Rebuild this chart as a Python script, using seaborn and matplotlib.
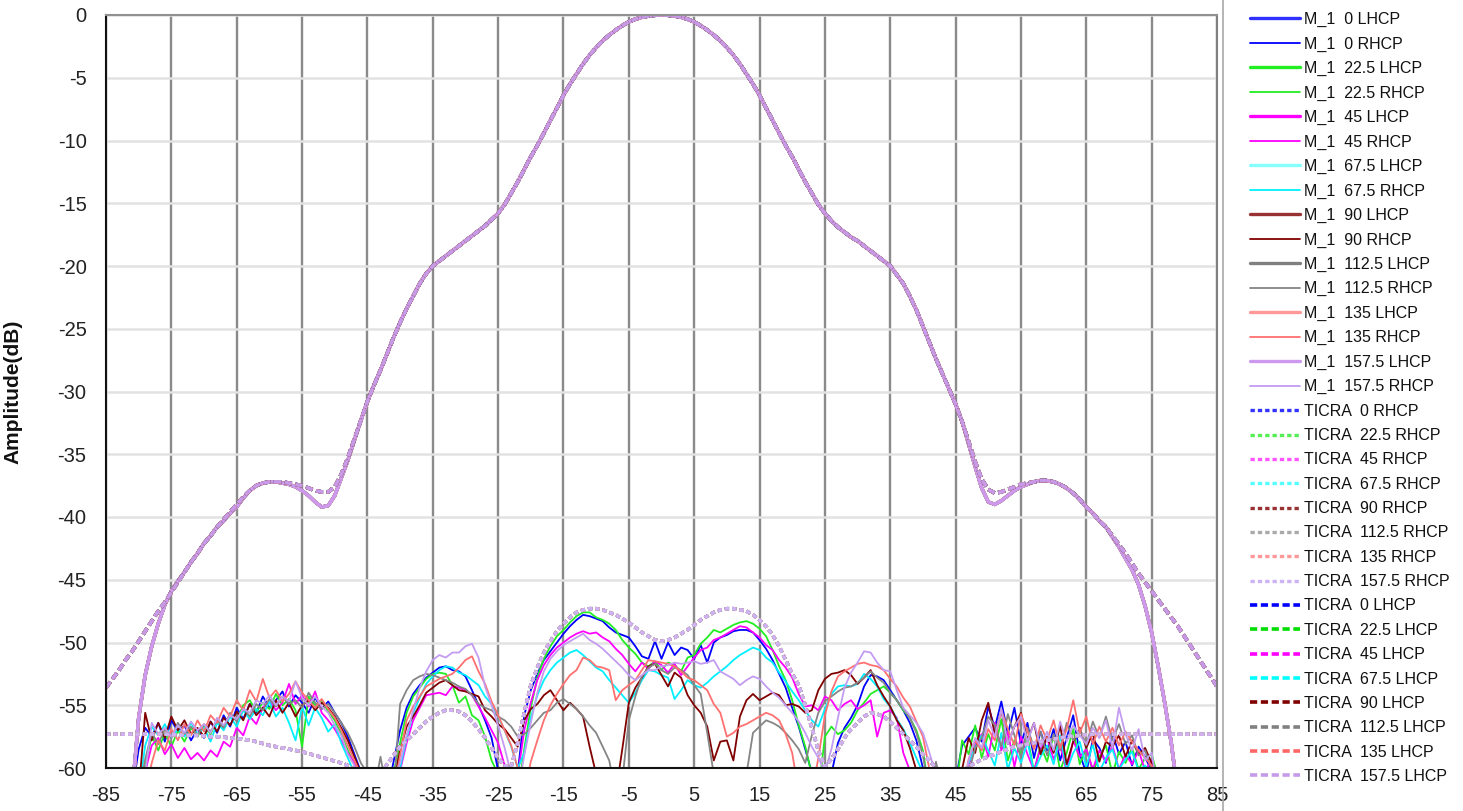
import matplotlib
matplotlib.use("Agg")
import matplotlib.pyplot as plt
import seaborn as sns
from matplotlib.lines import Line2D

# ---------------------------------------------------------------- data
ANGLES_M = list(range(-81, 81))      # measured cuts, deg
ANGLES_T = list(range(-85, 86))      # simulated cuts, deg
CUTS = ["0", "22.5", "45", "67.5", "90", "112.5", "135", "157.5"]

# measured co-polar (LHCP) pattern, dB
M1_CO = [
    -62.0, -56.0, -52.6, -50.3, -48.5, -47.0, -45.9, -45.1, -44.4, -43.6,
    -42.9, -42.1, -41.5, -40.8, -40.3, -39.7, -39.2, -38.5, -37.9, -37.5,
    -37.3, -37.2, -37.2, -37.3, -37.4, -37.6, -37.9, -38.3, -38.8, -39.2,
    -39.1, -38.3, -36.9, -35.5, -33.9, -32.3, -30.8, -29.5, -28.3, -27.0,
    -25.7, -24.5, -23.4, -22.4, -21.4, -20.6, -20.0, -19.6, -19.2, -18.8,
    -18.4, -18.0, -17.6, -17.2, -16.8, -16.3, -15.8, -15.1, -14.2, -13.3,
    -12.3, -11.3, -10.4, -9.4, -8.4, -7.4, -6.4, -5.5, -4.7, -3.9,
    -3.2, -2.6, -2.05, -1.6, -1.2, -0.85, -0.55, -0.33, -0.18, -0.08,
    -0.02, 0.0, -0.02, -0.08, -0.18, -0.33, -0.55, -0.85, -1.2, -1.6,
    -2.05, -2.6, -3.2, -3.9, -4.7, -5.5, -6.4, -7.4, -8.4, -9.4,
    -10.4, -11.3, -12.3, -13.3, -14.2, -15.1, -15.8, -16.4, -16.9, -17.3,
    -17.7, -18.0, -18.4, -18.8, -19.2, -19.6, -20.0, -20.7, -21.4, -22.4,
    -23.5, -24.8, -26.1, -27.4, -28.6, -29.8, -31.0, -32.4, -34.2, -36.0,
    -37.7, -38.8, -39.0, -38.7, -38.3, -37.9, -37.6, -37.4, -37.2, -37.1,
    -37.1, -37.2, -37.4, -37.7, -38.1, -38.6, -39.2, -39.7, -40.3, -40.8,
    -41.6, -42.4, -43.3, -44.2, -45.4, -47.1, -49.2, -51.9, -54.8, -58.0,
    -62.0, -62.0,
]

# measured cross-polar (RHCP) patterns, dB
M1_X_0 = [
    -62, -58.5, -56.8, -57.5, -56.4, -57.9, -56.2, -57.1, -56.6, -57.8,
    -56.9, -57.6, -56.3, -57.2, -55.8, -56.7, -55.2, -56.1, -54.9, -55.6,
    -54.3, -55.2, -54.6, -53.9, -55.1, -54.2, -54.8, -55.6, -54.4, -55.3,
    -54.7, -55.6, -56.4, -57.5, -58.9, -60.3, -62, -62, -62, -62,
    -59.5, -57.0, -55.2, -54.1, -53.4, -52.8, -52.4, -52.0, -51.9, -52.2,
    -52.3, -52.7, -53.8, -55.0, -56.2, -57.6, -60.2, -62, -62, -60.4,
    -55.8, -53.8, -52.5, -51.4, -50.7, -50.0, -49.3, -48.7, -48.2, -47.8,
    -47.9, -48.1, -48.3, -48.8, -49.2, -49.4, -49.6, -50.3, -51.1, -51.3,
    -49.9, -51.3, -50.0, -51.0, -50.4, -50.6, -51.3, -50.2, -51.6, -50.0,
    -49.6, -49.4, -49.1, -49.0, -49.0, -49.2, -49.8, -50.5, -51.4, -52.5,
    -53.6, -55.2, -56.7, -58.5, -60.4, -62, -61, -60.5, -58.0, -56.8,
    -56.0, -55.0, -53.5, -52.6, -52.7, -53.0, -53.8, -54.6, -55.4, -56.4,
    -57.8, -60.0, -62, -62, -62, -62, -61, -58.2, -57.5, -56.8,
    -57.9, -55.1, -56.8, -54.7, -57.3, -55.2, -58.1, -56.4, -59.2, -57.1,
    -58.6, -56.9, -59.4, -57.6, -55.8, -58.9, -60.4, -57.7, -58.4, -59.6,
    -57.2, -58.9, -57.9, -59.8, -58.3, -59.1, -60.3, -62, -62, -62,
    -62, -62,
]
M1_X_22 = [
    -62, -62, -59.8, -57.4, -58.6, -57.2, -58.3, -57.0, -57.9, -56.8,
    -57.5, -56.6, -57.3, -56.1, -56.9, -55.7, -56.2, -55.0, -54.6, -55.5,
    -54.8, -55.3, -54.1, -55.0, -54.5, -55.4, -58.3, -54.3, -55.0, -54.6,
    -55.5, -56.2, -57.3, -58.6, -59.7, -62, -62, -62, -62, -61.5,
    -60.4, -58.0, -55.6, -54.3, -53.6, -52.9, -52.5, -52.4, -52.5, -53.4,
    -54.8, -54.3, -55.8, -56.2, -57.5, -59.4, -60.5, -62, -62, -62,
    -58.5, -55.2, -52.8, -51.3, -50.3, -49.5, -49.0, -48.4, -47.9, -47.6,
    -47.6, -48.0, -48.2, -48.5, -49.0, -49.8, -50.4, -50.9, -51.6, -51.9,
    -51.5, -52.2, -51.6, -51.8, -52.3, -51.2, -51.0, -50.1, -49.6, -49.0,
    -49.2, -48.9, -48.6, -48.4, -48.3, -48.5, -48.9, -49.5, -50.6, -51.9,
    -53.0, -54.6, -56.6, -58.3, -60.5, -62, -57.5, -56.7, -57.3, -57.0,
    -56.4, -55.4, -54.8, -54.1, -53.8, -53.5, -54.0, -54.6, -55.4, -56.0,
    -57.0, -58.6, -62, -62, -62, -62, -62, -57.8, -58.9, -56.6,
    -59.2, -57.3, -58.6, -56.1, -59.4, -57.8, -58.9, -57.5, -60.3, -58.2,
    -59.5, -57.4, -60.2, -58.8, -56.9, -59.7, -58.4, -60.3, -59.1, -58.2,
    -60.5, -58.7, -59.6, -58.4, -60.1, -59.2, -58.9, -60.8, -62, -62,
    -62, -62,
]
M1_X_45 = [
    -62, -62, -60.3, -58.2, -57.6, -58.9, -58.1, -59.2, -58.4, -59.3,
    -58.8, -59.4, -58.6, -59.1, -57.9, -58.3, -56.8, -57.4, -55.9, -56.5,
    -55.2, -54.6, -55.4, -54.8, -53.3, -54.9, -54.2, -55.1, -53.9, -55.6,
    -56.2, -56.9, -57.8, -58.8, -59.6, -62, -62, -62, -62, -62,
    -62, -60.2, -58.0, -56.2, -55.2, -54.2, -54.1, -54.0, -54.2, -53.5,
    -53.6, -53.8, -54.2, -55.1, -56.0, -57.0, -58.0, -59.8, -62, -60.6,
    -57.0, -54.8, -53.0, -51.8, -51.0, -50.4, -50.0, -49.6, -49.3, -49.1,
    -49.3, -49.2, -49.6, -49.9, -50.5, -51.0, -51.7, -52.3, -51.6, -52.1,
    -51.5, -51.8, -52.4, -51.7, -52.6, -51.9, -51.2, -50.6, -50.4, -49.8,
    -49.6, -49.3, -49.0, -48.7, -48.8, -49.2, -49.6, -50.2, -50.6, -51.4,
    -52.0, -52.8, -54.1, -55.1, -55.0, -55.4, -54.3, -54.6, -55.4, -54.9,
    -54.6, -55.3, -55.0, -54.6, -57.5, -55.6, -55.4, -56.0, -58.8, -60.2,
    -62, -62, -62, -62, -62, -62, -62, -62, -59.8, -58.1,
    -57.3, -59.1, -56.4, -58.6, -57.1, -59.9, -57.5, -58.9, -60.2, -58.4,
    -57.6, -59.3, -58.1, -60.3, -57.8, -59.1, -58.5, -60.1, -58.6, -59.5,
    -58.2, -60.1, -58.9, -59.7, -58.6, -60.2, -59.4, -62, -62, -62,
    -62, -62,
]
M1_X_67 = [
    -62, -62, -58.2, -56.7, -57.4, -56.5, -57.6, -56.9, -57.5, -56.4,
    -57.3, -56.8, -57.9, -56.4, -57.0, -55.9, -56.7, -55.4, -56.1, -55.3,
    -55.8, -54.7, -55.9, -55.2, -56.4, -57.8, -55.1, -56.6, -55.2, -56.0,
    -57.1, -56.5, -58.0, -59.2, -60.4, -62, -62, -62, -62, -62,
    -62, -60.0, -57.6, -55.6, -54.4, -53.3, -52.7, -52.2, -51.9, -52.0,
    -52.4, -52.6, -53.0, -53.4, -54.3, -54.9, -55.9, -57.0, -58.3, -60.0,
    -58.8, -56.0, -54.2, -53.0, -52.2, -51.6, -51.2, -50.8, -50.6, -51.0,
    -51.5, -52.0, -52.3, -53.0, -53.6, -54.2, -54.8, -54.0, -53.0, -52.2,
    -52.3, -52.6, -52.8, -54.5, -53.8, -53.0, -53.4, -53.6, -53.2, -52.7,
    -52.3, -51.9, -51.4, -51.0, -50.7, -50.4, -50.6, -51.2, -51.6, -52.4,
    -53.1, -53.9, -54.6, -55.4, -56.2, -56.7, -55.3, -54.1, -53.5, -53.4,
    -53.5, -53.3, -52.5, -52.9, -53.5, -54.5, -55.1, -56.1, -56.9, -58.0,
    -59.2, -60.4, -62, -62, -62, -62, -62, -61, -59.6, -58.3,
    -57.4, -58.6, -59.8, -57.2, -60.1, -58.4, -59.6, -57.9, -60.3, -59.1,
    -58.2, -59.7, -57.4, -60.2, -58.8, -57.9, -59.9, -58.1, -60.3, -59.2,
    -58.5, -60.1, -59.3, -58.7, -60.2, -59.8, -60.5, -62, -62, -62,
    -62, -62,
]
M1_X_90 = [
    -62, -62, -55.6, -57.8, -56.4, -57.6, -55.9, -57.0, -56.2, -57.3,
    -56.8, -57.5, -56.3, -57.1, -56.0, -56.6, -55.5, -56.2, -54.9, -55.8,
    -55.2, -55.9, -54.6, -55.6, -54.8, -55.9, -55.0, -54.6, -55.4, -54.8,
    -55.2, -55.9, -56.8, -57.8, -59.1, -60.4, -62, -62, -62, -62,
    -61, -58.6, -56.7, -55.9, -55.0, -54.0, -53.6, -53.2, -53.0, -53.4,
    -53.8, -53.9, -54.1, -54.3, -55.4, -55.9, -56.5, -56.9, -57.6, -58.3,
    -56.2, -55.3, -54.9, -54.2, -53.8, -54.6, -55.4, -54.8, -55.3, -55.9,
    -58.3, -60.5, -62, -62, -62, -58.5, -54.8, -53.6, -52.8, -51.9,
    -51.7, -52.6, -53.5, -52.4, -52.8, -54.2, -55.0, -55.6, -56.7, -59.4,
    -57.9, -57.8, -59.4, -55.9, -54.6, -54.1, -54.6, -54.3, -54.0, -54.2,
    -55.0, -54.9, -55.1, -55.6, -55.4, -53.8, -52.9, -52.5, -52.4, -52.2,
    -52.6, -53.3, -52.8, -52.2, -53.4, -54.3, -55.1, -56.2, -57.0, -58.4,
    -60.2, -62, -62, -62, -62, -62, -62, -60.1, -57.6, -58.8,
    -56.2, -54.8, -57.3, -55.4, -58.1, -56.7, -55.6, -57.8, -56.4, -58.9,
    -57.5, -58.8, -56.6, -59.7, -57.9, -56.8, -58.4, -57.2, -59.5, -57.9,
    -58.3, -57.4, -59.1, -57.8, -58.9, -58.4, -59.6, -60.4, -62, -62,
    -62, -62,
]
M1_X_112 = [
    -62, -62, -59.3, -57.2, -58.1, -56.9, -57.6, -56.4, -57.3, -56.7,
    -57.4, -56.5, -57.1, -56.2, -56.8, -55.6, -56.3, -55.2, -55.9, -54.9,
    -55.4, -54.5, -55.1, -54.3, -54.9, -54.6, -55.2, -54.0, -54.8, -55.3,
    -54.9, -55.6, -56.4, -57.2, -58.3, -59.6, -60.4, -62, -59.1, -62,
    -62, -54.9, -53.8, -53.0, -52.7, -52.5, -52.6, -52.8, -53.0, -53.2,
    -53.5, -53.7, -54.2, -54.9, -55.2, -55.4, -55.9, -56.2, -56.7, -57.5,
    -57.3, -56.8, -56.2, -55.6, -55.4, -54.8, -54.5, -54.9, -55.3, -55.9,
    -56.6, -57.2, -58.3, -59.4, -62, -61, -56.2, -54.3, -52.7, -52.0,
    -51.7, -52.2, -52.5, -52.0, -52.2, -52.6, -53.4, -54.1, -57.2, -60.5,
    -62, -62, -62, -62, -60.5, -57.2, -56.7, -56.2, -56.4, -56.7,
    -57.2, -57.8, -58.5, -59.6, -57.4, -55.6, -54.7, -54.3, -53.9, -53.6,
    -53.5, -53.2, -52.8, -52.3, -52.8, -53.2, -54.0, -54.6, -55.3, -56.0,
    -57.2, -59.0, -62, -59.5, -62, -62, -62, -62, -60.4, -58.4,
    -57.6, -55.9, -56.6, -58.3, -55.7, -57.4, -59.2, -56.8, -58.4, -57.1,
    -59.0, -57.3, -58.6, -56.4, -57.8, -56.9, -58.2, -56.3, -57.6, -55.9,
    -57.8, -56.5, -58.1, -57.4, -59.0, -58.6, -60.2, -62, -62, -62,
    -62, -62,
]
M1_X_135 = [
    -62, -62, -62, -59.6, -57.8, -58.6, -56.9, -57.8, -56.5, -57.4,
    -56.2, -57.1, -55.8, -56.4, -55.2, -55.9, -54.6, -55.4, -53.8, -54.7,
    -52.9, -54.4, -53.8, -54.7, -54.1, -53.1, -54.0, -54.6, -55.2, -54.5,
    -55.3, -56.0, -57.0, -58.2, -59.4, -60.5, -62, -62, -62, -62,
    -62, -59.0, -56.2, -55.1, -54.3, -53.5, -53.2, -52.9, -52.7, -52.5,
    -52.0, -51.4, -51.1, -52.3, -53.3, -54.7, -55.8, -57.0, -58.2, -60.0,
    -62, -59.5, -57.8, -56.2, -55.0, -54.1, -53.3, -52.6, -52.2, -51.2,
    -51.4, -51.9, -52.0, -52.2, -54.6, -53.8, -53.4, -53.0, -52.2, -51.4,
    -51.5, -51.6, -51.7, -51.9, -52.3, -52.8, -53.0, -53.4, -53.8, -54.9,
    -55.6, -57.5, -57.2, -56.7, -56.5, -56.2, -55.9, -55.6, -55.8, -56.2,
    -57.3, -58.8, -62, -62, -62, -59.2, -55.8, -53.9, -52.7, -52.3,
    -52.0, -51.7, -51.6, -51.8, -51.9, -52.2, -52.9, -53.5, -54.4, -55.1,
    -56.3, -57.5, -60.1, -62, -62, -62, -62, -62, -59.3, -57.8,
    -58.6, -56.9, -57.8, -55.4, -56.9, -58.2, -55.7, -57.1, -58.5, -56.6,
    -57.8, -56.2, -58.4, -56.9, -54.6, -57.2, -55.9, -58.1, -56.7, -57.9,
    -56.8, -58.2, -57.1, -57.9, -58.6, -59.2, -59.8, -62, -62, -62,
    -62, -62,
]
M1_X_157 = [
    -62, -62, -60.4, -56.4, -57.3, -56.8, -57.5, -56.6, -57.2, -56.3,
    -57.0, -56.5, -57.2, -56.0, -56.6, -55.8, -56.1, -55.3, -55.6, -54.6,
    -54.9, -54.2, -55.0, -54.3, -54.7, -53.1, -54.4, -55.0, -54.3, -55.1,
    -55.6, -56.6, -57.4, -58.9, -59.8, -62, -62, -62, -62, -62,
    -61, -59.6, -57.4, -55.4, -53.6, -52.3, -51.4, -51.0, -51.2, -50.8,
    -50.8, -50.3, -50.1, -51.2, -53.5, -55.0, -56.6, -58.4, -60.5, -62,
    -59.0, -56.4, -54.0, -52.3, -51.3, -50.7, -50.2, -49.9, -49.6, -49.3,
    -49.8, -50.1, -50.5, -51.0, -51.5, -52.0, -52.6, -53.0, -52.6, -52.2,
    -52.2, -51.9, -51.8, -51.6, -51.7, -51.6, -51.5, -51.7, -51.6, -51.4,
    -52.3, -52.6, -52.9, -53.4, -53.0, -52.7, -52.9, -53.5, -54.0, -54.4,
    -55.0, -55.6, -56.3, -57.2, -58.3, -59.2, -60.3, -58.5, -56.0, -53.6,
    -52.4, -51.6, -50.7, -50.8, -51.6, -52.2, -52.3, -53.8, -55.2, -55.8,
    -56.4, -57.2, -58.8, -60.5, -62, -62, -62, -62, -59.4, -57.6,
    -58.4, -56.2, -57.5, -55.3, -58.1, -56.7, -55.9, -57.9, -56.4, -58.3,
    -57.1, -58.6, -56.3, -57.9, -56.6, -57.4, -58.1, -56.8, -57.6, -56.2,
    -58.4, -55.2, -57.3, -58.6, -56.9, -59.4, -58.8, -62, -62, -62,
    -62, -62,
]
M1_X = [M1_X_0, M1_X_22, M1_X_45, M1_X_67, M1_X_90, M1_X_112, M1_X_135, M1_X_157]

# simulated co-polar (LHCP) pattern, dB
TICRA_CO = [
    -53.6, -52.9, -52.2, -51.4, -50.7, -49.9, -49.1, -48.3, -47.5, -46.8,
    -46.0, -45.2, -44.4, -43.6, -42.9, -42.1, -41.5, -40.8, -40.2, -39.6,
    -39.0, -38.4, -37.9, -37.5, -37.3, -37.2, -37.2, -37.2, -37.3, -37.4,
    -37.5, -37.7, -37.9, -38.0, -38.0, -37.6, -36.6, -35.3, -33.8, -32.3,
    -30.8, -29.5, -28.3, -27.0, -25.7, -24.5, -23.4, -22.4, -21.4, -20.6,
    -20.0, -19.6, -19.2, -18.8, -18.4, -18.0, -17.6, -17.2, -16.8, -16.3,
    -15.8, -15.1, -14.2, -13.3, -12.3, -11.3, -10.4, -9.4, -8.4, -7.4,
    -6.4, -5.5, -4.7, -3.9, -3.2, -2.6, -2.05, -1.6, -1.2, -0.85,
    -0.55, -0.33, -0.18, -0.08, -0.02, 0.0, -0.02, -0.08, -0.18, -0.33,
    -0.55, -0.85, -1.2, -1.6, -2.05, -2.6, -3.2, -3.9, -4.7, -5.5,
    -6.4, -7.4, -8.4, -9.4, -10.4, -11.3, -12.3, -13.3, -14.2, -15.1,
    -15.8, -16.4, -16.9, -17.3, -17.7, -18.0, -18.4, -18.8, -19.2, -19.6,
    -20.0, -20.7, -21.4, -22.4, -23.5, -24.8, -26.1, -27.4, -28.6, -29.8,
    -31.0, -32.4, -34.0, -35.6, -37.0, -37.8, -38.1, -38.0, -37.8, -37.6,
    -37.4, -37.3, -37.2, -37.1, -37.1, -37.2, -37.4, -37.7, -38.1, -38.6,
    -39.2, -39.7, -40.3, -40.8, -41.5, -42.2, -42.9, -43.7, -44.5, -45.2,
    -45.9, -46.6, -47.3, -48.0, -48.7, -49.5, -50.3, -51.1, -51.9, -52.7,
    -53.5,
]

# simulated cross-polar (RHCP) pattern, dB
TICRA_X = [
    -57.3, -57.3, -57.3, -57.3, -57.3, -57.3, -57.3, -57.3, -57.3, -57.3,
    -57.35, -57.35, -57.4, -57.4, -57.4, -57.45, -57.5, -57.5, -57.55, -57.6,
    -57.65, -57.7, -57.8, -57.9, -58.05, -58.2, -58.3, -58.4, -58.5, -58.6,
    -58.7, -58.85, -59.0, -59.15, -59.3, -59.45, -59.6, -59.8, -60.1, -60.5,
    -60.8, -61.0, -60.6, -59.7, -59.0, -58.3, -57.8, -57.3, -56.8, -56.3,
    -55.9, -55.6, -55.4, -55.4, -55.5, -55.8, -56.3, -56.9, -57.6, -58.4,
    -59.2, -59.8, -59.9, -58.0, -55.6, -53.4, -52.0, -50.8, -49.9, -49.1,
    -48.5, -48.0, -47.6, -47.4, -47.3, -47.3, -47.4, -47.6, -47.8, -48.1,
    -48.4, -48.8, -49.2, -49.5, -49.8, -49.9, -49.8, -49.6, -49.3, -49.0,
    -48.6, -48.2, -47.9, -47.6, -47.4, -47.3, -47.3, -47.4, -47.5, -47.8,
    -48.2, -48.7, -49.4, -50.3, -51.4, -52.5, -53.4, -55.0, -56.8, -58.6,
    -59.9, -59.3, -58.5, -57.6, -56.9, -56.4, -55.9, -55.6, -55.7, -55.9,
    -56.3, -56.8, -57.3, -57.8, -58.3, -58.9, -59.4, -60.0, -60.6, -61.0,
    -60.8, -60.3, -59.9, -59.6, -59.3, -59.1, -58.9, -58.7, -58.5, -58.3,
    -58.2, -58.1, -58.0, -57.9, -57.8, -57.7, -57.6, -57.5, -57.45, -57.4,
    -57.35, -57.3, -57.3, -57.3, -57.3, -57.3, -57.3, -57.3, -57.3, -57.3,
    -57.3, -57.3, -57.3, -57.3, -57.3, -57.3, -57.3, -57.3, -57.3, -57.3,
    -57.3,
]

X_TICKS = list(range(-85, 86, 10))
Y_TICKS = list(range(-60, 1, 5))

# ---------------------------------------------------------------- styles
M1_LHCP_COLORS = ["#3030ff", "#22ee22", "#ff00ff", "#88ffff",
                  "#993333", "#808080", "#ff9999", "#cc99ee"]
M1_RHCP_COLORS = ["#0000ff", "#22ee22", "#ff00ff", "#00f0ff",
                  "#800000", "#858585", "#ff7070", "#c39cf2"]
TICRA_RHCP_COLORS = ["#3333ff", "#55ee55", "#ff55ff", "#55ffff",
                     "#993333", "#aaaaaa", "#ff9999", "#ccb3f5"]
TICRA_LHCP_COLORS = ["#0000ff", "#00dd00", "#ff00ff", "#00ffff",
                     "#800000", "#808080", "#ff6666", "#c59ae8"]

W, H = 1463, 811
sns.set_theme(style="white")
plt.rcParams["font.family"] = ["Liberation Sans", "DejaVu Sans"]

fig = plt.figure(figsize=(W / 100, H / 100), dpi=100)
ax = fig.add_axes([106 / W, 1 - 768 / H, (1217 - 106) / W, (768 - 15) / H])

# measured series (co- and cross-polar for every cut)
for i, cut in enumerate(CUTS):
    sns.lineplot(x=ANGLES_M, y=M1_CO, ax=ax, color=M1_LHCP_COLORS[i],
                 lw=2.4, estimator=None, sort=False,
                 label=f"M_1  {cut} LHCP")
    sns.lineplot(x=ANGLES_M, y=M1_X[i], ax=ax, color=M1_RHCP_COLORS[i],
                 lw=1.3, estimator=None, sort=False,
                 label=f"M_1  {cut} RHCP")

# simulated series
for i, cut in enumerate(CUTS):
    sns.lineplot(x=ANGLES_T, y=TICRA_X, ax=ax, color=TICRA_RHCP_COLORS[i],
                 lw=2.4, estimator=None, sort=False,
                 label=f"TICRA  {cut} RHCP")
    ax.lines[-1].set_dashes((1.3, 0.9))
for i, cut in enumerate(CUTS):
    sns.lineplot(x=ANGLES_T, y=TICRA_CO, ax=ax, color=TICRA_LHCP_COLORS[i],
                 lw=2.6, estimator=None, sort=False,
                 label=f"TICRA  {cut} LHCP")
    ax.lines[-1].set_dashes((2.0, 1.0))

# axes, grid, ticks
ax.set_xlim(-85, 85)
ax.set_ylim(-60, 0)
ax.set_xticks(X_TICKS)
ax.set_yticks(Y_TICKS)
ax.set_xticklabels([str(v) for v in X_TICKS])
ax.set_yticklabels([str(v) for v in Y_TICKS])
ax.set_axisbelow(True)
ax.xaxis.grid(True, color="#8a8a8a", lw=1.7)
ax.yaxis.grid(True, color="#e2e2e2", lw=1.8)
ax.tick_params(axis="both", which="major", labelsize=14.5, colors="#222222",
               direction="out", length=5, width=1.2)
ax.tick_params(axis="y", pad=9)
ax.tick_params(axis="x", pad=8)
ax.set_xlabel("")
ax.set_ylabel("Amplitude(dB)", fontsize=15, fontweight="bold", color="#111111")
ax.yaxis.set_label_coords((22 - 106) / (1217 - 106), 0.5)

for side, col in (("left", "#111111"), ("bottom", "#111111"),
                  ("top", "#909090"), ("right", "#808080")):
    ax.spines[side].set_visible(True)
    ax.spines[side].set_color(col)
    ax.spines[side].set_linewidth(1.5)

# legend at the right, separated by a thin rule
handles, labels = ax.get_legend_handles_labels()
leg = ax.legend(handles, labels, loc="upper left",
                bbox_to_anchor=(1250 / W, 1 - 12 / H),
                bbox_transform=fig.transFigure, frameon=False,
                fontsize=11.5, handlelength=3.1, handletextpad=0.3,
                labelspacing=0.585, borderaxespad=0, borderpad=0)
for txt in leg.get_texts():
    txt.set_color("#111111")
fig.add_artist(Line2D([1223 / W, 1223 / W], [0, 1], transform=fig.transFigure,
                      color="#a8a8a8", lw=1.2))

fig.savefig("out.png", dpi=100)
